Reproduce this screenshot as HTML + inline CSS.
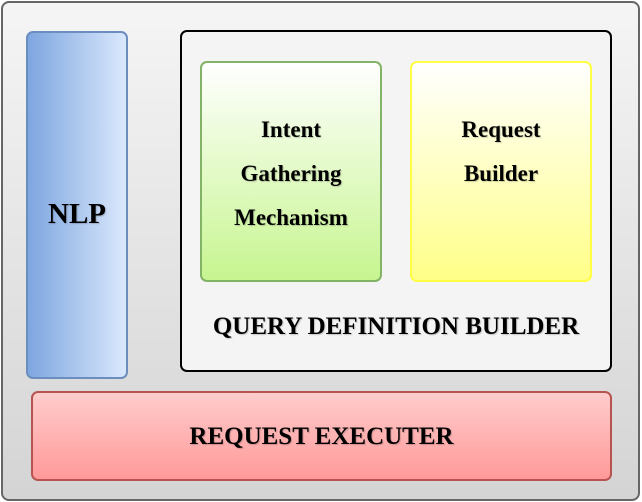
<!DOCTYPE html>
<html><head><meta charset="utf-8"><style>
html,body{margin:0;padding:0;width:642px;height:502px;overflow:hidden;background:#fff}
.b{position:absolute;box-sizing:border-box}
.t{position:absolute;font-family:"Liberation Serif",serif;font-weight:bold;color:#000;text-align:center;text-shadow:1px 1px 1px rgba(0,0,0,0.2)}
</style></head><body>
<div class="b" style="left:1px;top:1px;width:639px;height:500px;border:2px solid #666;border-radius:8px;background:linear-gradient(#f5f5f5,#d4d4d4)"></div>
<div class="b" style="left:26px;top:31px;width:102px;height:348px;border:2px solid #6c8ebf;border-radius:7px;background:linear-gradient(to right,#7ea6e0,#dae8fc)"></div>
<div class="t" style="left:26px;top:196px;width:102px;font-size:29px;line-height:36px">NLP</div>
<div class="b" style="left:180px;top:30px;width:432px;height:342px;border:2px solid #000;border-radius:7px;background:#f4f4f4"></div>
<div class="b" style="left:200px;top:61px;width:182px;height:221px;border:2px solid #82b366;border-radius:7px;background:linear-gradient(#ffffff,#c7f590)"></div>
<div class="t" style="left:200px;top:108px;width:182px;font-size:23px;line-height:44px">Intent<br>Gathering<br>Mechanism</div>
<div class="b" style="left:410px;top:61px;width:182px;height:221px;border:2px solid #ffff44;border-radius:7px;background:linear-gradient(#ffffff,#ffff88)"></div>
<div class="t" style="left:410px;top:108px;width:182px;font-size:23px;line-height:44px">Request<br>Builder</div>
<div class="t" style="left:180px;top:312px;width:432px;font-size:25px;line-height:30px">QUERY DEFINITION BUILDER</div>
<div class="b" style="left:31px;top:391px;width:581px;height:90px;border:2px solid #b85450;border-radius:7px;background:linear-gradient(#ffcccc,#ff9999)"></div>
<div class="t" style="left:31px;top:422px;width:581px;font-size:25px;line-height:30px">REQUEST EXECUTER</div>
</body></html>
